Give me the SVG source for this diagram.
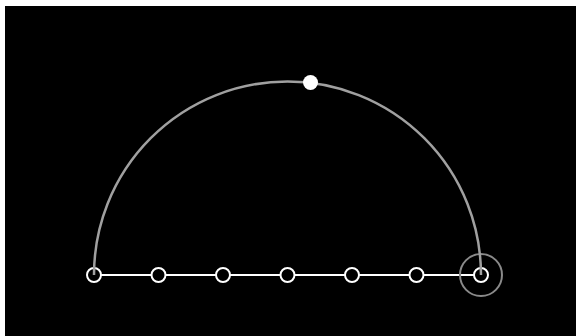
<svg xmlns="http://www.w3.org/2000/svg" width="576" height="336" viewBox="0 0 576 336">
<style>
.n{fill:#000;stroke:#fff;stroke-width:2}
</style>
<rect width="576" height="336" fill="#fff"/>
<rect x="5" y="6" width="571" height="330" fill="#000"/>
<g id="connectors">
<line x1="94" y1="275" x2="481" y2="275" stroke="#fff" stroke-width="2"/>
</g>
<g id="n1"><circle class="n" cx="94" cy="275" r="7"/></g>
<g id="n2"><circle class="n" cx="158.5" cy="275" r="7"/></g>
<g id="n3"><circle class="n" cx="223" cy="275" r="7"/></g>
<g id="n4"><circle class="n" cx="287.5" cy="275" r="7"/></g>
<g id="n5"><circle class="n" cx="352" cy="275" r="7"/></g>
<g id="n6"><circle class="n" cx="416.5" cy="275" r="7"/></g>
<g id="n7"><circle class="n" cx="481" cy="275" r="7"/><circle cx="481" cy="275" r="21" fill="none" stroke="#8a8a8a" stroke-width="2"/></g>
<g id="arc">
<path d="M94 275 A193.5 193.5 0 0 1 481 275" fill="none" stroke="#a0a0a0" stroke-width="2.5"/>
</g>
<g id="dot"><circle cx="310.5" cy="82.5" r="7.5" fill="#fff"/></g>
</svg>
